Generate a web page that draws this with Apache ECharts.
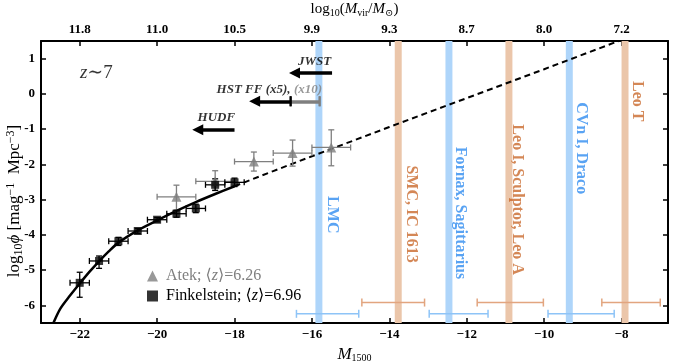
<!DOCTYPE html>
<html>
<head>
<meta charset="utf-8">
<script src="https://cdn.jsdelivr.net/npm/echarts@6/dist/echarts.min.js"></script>
<style>
  html, body { margin: 0; padding: 0; background: #fff; }
  #chart { width: 674px; height: 363px; }
</style>
</head>
<body>
<div id="chart"></div>
<script>
// axis ticks
const bottomTicks = [-22, -20, -18, -16, -14, -12, -10, -8];
const topTickLabels = ['11.8', '11.0', '10.5', '9.9', '9.3', '8.7', '8.0', '7.2'];
const yTicks = [-6, -5, -4, -3, -2, -1, 0, 1];

// Finkelstein points (M1500, log phi) + errors
const finkM = [-22, -21.5, -21, -20.5, -20, -19.5, -19, -18.5, -18];
const finkPhi = [-5.36, -4.74, -4.18, -3.89, -3.57, -3.40, -3.25, -2.58, -2.51];
const finkErrM = [0.25, 0.25, 0.25, 0.25, 0.25, 0.25, 0.25, 0.25, 0.25];
const finkErrUp = [0.30, 0.14, 0.11, 0.07, 0.06, 0.10, 0.12, 0.17, 0.12];
const finkErrDn = [0.41, 0.21, 0.12, 0.07, 0.06, 0.10, 0.12, 0.16, 0.12];

// Atek points
const atekM = [-19.5, -18.5, -17.5, -16.5, -15.5];
const atekPhi = [-2.92, -2.48, -1.92, -1.68, -1.52];
const atekErrM = [0.5, 0.5, 0.5, 0.5, 0.5];
const atekErrUp = [0.33, 0.30, 0.27, 0.37, 0.50];
const atekErrDn = [0.40, 0.25, 0.27, 0.37, 0.52];

// fitted LF: solid part and dashed extrapolation
const fitM = [-22.68, -22.5, -22.25, -22, -21.75, -21.5, -21.25, -21, -20.5, -20, -19.5, -19, -18.5, -18];
const fitPhi = [-6.5, -6.09, -5.72, -5.38, -5.05, -4.75, -4.47, -4.22, -3.87, -3.59, -3.32, -3.07, -2.84, -2.62];
const extM = [-18, -17, -16, -14, -12, -10, -8];
const extPhi = [-2.62, -2.19, -1.77, -0.94, -0.12, 0.70, 1.53];

// local group galaxies (vertical bands)
const blueBands = [-15.82, -12.46, -9.35];
const blueNames = ['LMC', 'Fornax, Sagittarius', 'CVn I, Draco'];
const blueNameM = [-15.47, -12.16, -9.04];
const blueNamePhi = [-3.43, -3.38, -1.54];
const orangeBands = [-13.77, -10.91, -7.91];
const orangeNames = ['SMC, IC 1613', 'Leo I, Sculptor, Leo A', 'Leo T'];
const orangeNameM = [-13.44, -10.70, -7.60];
const orangeNamePhi = [-3.41, -3.00, -0.21];

// magnitude ranges at the bottom
const orangeLo = [-14.71, -11.73, -8.51];
const orangeHi = [-13.09, -10.02, -7.00];
const orangeRowPhi = -5.92;
const blueLo = [-16.40, -12.97, -9.90];
const blueHi = [-14.79, -11.45, -8.19];
const blueRowPhi = -6.24;

// survey limits (arrows)
const hudfArrow = [[-18.0, -1.02], [-18.95, -1.02]];
const hstArrow = [[-16.55, -0.21], [-17.48, -0.21]];
const hst10Bar = [[-15.80, -0.21], [-16.55, -0.21]];
const jwstArrow = [[-15.48, 0.59], [-16.45, 0.59]];

const serif = '"Liberation Serif", "DejaVu Serif", serif';
const BLUE_BAND = '#aed5fa';
const ORANGE_BAND = '#ebc6aa';
const BLUE_TXT = '#2f8cf0';
const ORANGE_TXT = '#c9692c';
const GREY = '#7f7f7f';

function errRows(xs, ys, ex, eu, ed) {
  return xs.map((x, i) => [x, ys[i], x - ex[i], x + ex[i], ys[i] - ed[i], ys[i] + eu[i]]);
}

function errorBars(color, cap, lw) {
  return function (params, api) {
    const x = api.value(0), y = api.value(1);
    const pl = api.coord([api.value(2), y]);
    const ph = api.coord([api.value(3), y]);
    const style = { stroke: color, lineWidth: lw, fill: null };
    const kids = [
      { type: 'line', shape: { x1: pl[0], y1: pl[1], x2: ph[0], y2: ph[1] }, style },
      { type: 'line', shape: { x1: pl[0], y1: pl[1] - cap, x2: pl[0], y2: pl[1] + cap }, style },
      { type: 'line', shape: { x1: ph[0], y1: ph[1] - cap, x2: ph[0], y2: ph[1] + cap }, style }
    ];
    if (api.value(5) > api.value(4)) {
      const pb = api.coord([x, api.value(4)]);
      const pt = api.coord([x, api.value(5)]);
      kids.push(
        { type: 'line', shape: { x1: pb[0], y1: pb[1], x2: pt[0], y2: pt[1] }, style },
        { type: 'line', shape: { x1: pb[0] - cap, y1: pb[1], x2: pb[0] + cap, y2: pb[1] }, style },
        { type: 'line', shape: { x1: pt[0] - cap, y1: pt[1], x2: pt[0] + cap, y2: pt[1] }, style }
      );
    }
    return { type: 'group', children: kids };
  };
}

function bandSeries(centers, color) {
  return {
    type: 'custom',
    z: 1,
    silent: true,
    data: centers.map(c => [c, 0]),
    renderItem: (params, api) => {
      const c = api.value(0);
      const p0 = api.coord([c - 0.09, 1.5]);
      const p1 = api.coord([c + 0.09, -6.5]);
      return { type: 'rect', shape: { x: p0[0], y: p0[1], width: p1[0] - p0[0], height: p1[1] - p0[1] }, style: { fill: color } };
    }
  };
}

function textSeries(data, label) {
  return {
    type: 'scatter',
    symbolSize: 0,
    silent: true,
    z: 6,
    data: data,
    label: Object.assign({ show: true, position: 'inside', formatter: p => p.data[2] }, label)
  };
}

function arrowSeries(coords, color, withHead) {
  return {
    type: 'lines',
    coordinateSystem: 'cartesian2d',
    z: 5,
    silent: true,
    symbol: ['none', withHead ? 'triangle' : 'none'],
    symbolSize: 11,
    lineStyle: { color: color, width: 3.5, opacity: 1 },
    data: [{ coords: coords }]
  };
}

const rowRows = (lo, hi, y) => lo.map((l, i) => [(l + hi[i]) / 2, y, l, hi[i], y, y]);

// rich text pieces for axis titles
const nameRich = {
  t: { fontFamily: serif, fontSize: 15, lineHeight: 18, color: '#000' },
  i: { fontFamily: serif, fontSize: 15, lineHeight: 18, fontStyle: 'italic', color: '#000' },
  b: { fontFamily: serif, fontSize: 17, lineHeight: 18, fontStyle: 'italic', color: '#000' },
  s: { fontFamily: serif, fontSize: 10, lineHeight: 9, verticalAlign: 'bottom', color: '#000' },
  p: { fontFamily: serif, fontSize: 10, lineHeight: 9, verticalAlign: 'top', color: '#000' }
};
const yRich = {
  t: { fontFamily: serif, fontSize: 17, lineHeight: 20, color: '#000' },
  i: { fontFamily: serif, fontSize: 17, lineHeight: 20, fontStyle: 'italic', color: '#000' },
  s: { fontFamily: serif, fontSize: 12, lineHeight: 10, verticalAlign: 'bottom', color: '#000' },
  p: { fontFamily: serif, fontSize: 12, lineHeight: 10, verticalAlign: 'top', color: '#000' }
};

const chart = echarts.init(document.getElementById('chart'), null, { renderer: 'canvas' });

const tickLabel = { fontFamily: serif, fontWeight: 'bold', fontSize: 13, color: '#000' };
const frameLine = { show: true, onZero: false, lineStyle: { color: '#000', width: 2 } };
const ticks = { show: true, inside: true, length: 5, lineStyle: { color: '#000', width: 1.5 } };

chart.setOption({
  animation: false,
  backgroundColor: '#fff',
  grid: { left: 41, right: 6, top: 41, bottom: 40, containLabel: false, outerBoundsMode: 'none' },
  graphic: [
    {
      type: 'text', x: 15, y: 201, rotation: Math.PI / 2,
      style: {
        text: '{t|log}{s|10}{i|\u03d5}{t| [mag}{p|\u22121}{t|  Mpc}{p|\u22123}{t|]}',
        rich: yRich, align: 'center', verticalAlign: 'middle'
      }
    }
  ],
  legend: {
    left: 142,
    top: 263,
    orient: 'vertical',
    itemWidth: 11,
    itemHeight: 11,
    itemGap: 4,
    selectedMode: false,
    data: [
      { name: 'Atek', textStyle: { color: GREY } },
      { name: 'Finkelstein', textStyle: { color: '#000' } }
    ],
    formatter: name => name === 'Atek'
      ? '{t|Atek; \u27e8}{i|z}{t|\u27e9=6.26}'
      : '{t|Finkelstein; \u27e8}{i|z}{t|\u27e9=6.96}',
    textStyle: {
      fontFamily: serif, fontSize: 16, padding: [0, 0, 0, 3],
      rich: {
        t: { fontFamily: serif, fontSize: 16 },
        i: { fontFamily: serif, fontSize: 16, fontStyle: 'italic' }
      }
    }
  },
  xAxis: [
    {
      type: 'value', position: 'bottom', min: -23, max: -6.8,
      axisLine: frameLine, axisTick: Object.assign({ customValues: bottomTicks }, ticks),
      axisLabel: Object.assign({ customValues: bottomTicks, margin: 5, formatter: v => String(v).replace('-', '\u2212') }, tickLabel),
      splitLine: { show: false },
      name: '{b|M}{s|1500}', nameLocation: 'middle', nameGap: 17,
      nameTextStyle: { rich: nameRich }
    },
    {
      type: 'value', position: 'top', min: -23, max: -6.8,
      axisLine: frameLine, axisTick: Object.assign({ customValues: bottomTicks }, ticks),
      axisLabel: Object.assign({
        customValues: bottomTicks, margin: 5,
        formatter: v => topTickLabels[bottomTicks.indexOf(Math.round(v))]
      }, tickLabel),
      splitLine: { show: false },
      name: '{t|log}{s|10}{t|(}{i|M}{s|vir}{t|/}{i|M}{s|\u2299}{t|)}', nameLocation: 'middle', nameGap: 12,
      nameTextStyle: { rich: nameRich }
    }
  ],
  yAxis: [
    {
      type: 'value', position: 'left', min: -6.5, max: 1.5,
      axisLine: frameLine, axisTick: Object.assign({ customValues: yTicks }, ticks),
      axisLabel: Object.assign({ customValues: yTicks, margin: 6 }, tickLabel),
      splitLine: { show: false }
    },
    {
      type: 'value', position: 'right', min: -6.5, max: 1.5,
      axisLine: frameLine, axisTick: Object.assign({ customValues: yTicks }, ticks),
      axisLabel: { show: false }, splitLine: { show: false }
    }
  ],
  series: [
    bandSeries(blueBands, BLUE_BAND),
    bandSeries(orangeBands, ORANGE_BAND),
    {
      type: 'custom', z: 2, silent: true,
      data: rowRows(orangeLo, orangeHi, orangeRowPhi),
      renderItem: errorBars('#e2a57f', 4, 1.5)
    },
    {
      type: 'custom', z: 2, silent: true,
      data: rowRows(blueLo, blueHi, blueRowPhi),
      renderItem: errorBars('#8ec4f7', 4, 1.5)
    },
    {
      type: 'line', z: 3, silent: true, showSymbol: false, symbol: 'none', smooth: 0.3,
      data: fitM.map((m, i) => [m, fitPhi[i]]),
      lineStyle: { color: '#000', width: 2.5 }
    },
    {
      type: 'line', z: 3, silent: true, showSymbol: false, symbol: 'none',
      data: extM.map((m, i) => [m, extPhi[i]]),
      lineStyle: { color: '#000', width: 2, type: [6, 4] }
    },
    {
      type: 'custom', z: 4, silent: true,
      data: errRows(atekM, atekPhi, atekErrM, atekErrUp, atekErrDn),
      renderItem: errorBars(GREY, 3, 1.3)
    },
    {
      type: 'custom', z: 4, silent: true,
      data: errRows(finkM, finkPhi, finkErrM, finkErrUp, finkErrDn),
      renderItem: errorBars('#000', 3, 1.3)
    },
    {
      name: 'Atek', type: 'scatter', z: 5, symbol: 'triangle', symbolSize: 10,
      itemStyle: { color: GREY },
      data: atekM.map((m, i) => [m, atekPhi[i]])
    },
    {
      name: 'Finkelstein', type: 'scatter', z: 5, symbol: 'rect', symbolSize: 8,
      itemStyle: { color: '#000' },
      data: finkM.map((m, i) => [m, finkPhi[i]])
    },
    arrowSeries(hudfArrow, '#000', true),
    arrowSeries(hst10Bar, GREY, false),
    arrowSeries(hstArrow, '#000', true),
    arrowSeries(jwstArrow, '#000', true),
    {
      type: 'custom', z: 5, silent: true,
      data: [[hst10Bar[0][0], hst10Bar[0][1], hst10Bar[0][0], hst10Bar[0][0], 0, 0]],
      renderItem: errorBars(GREY, 5, 2)
    },
    {
      type: 'custom', z: 5, silent: true,
      data: [[hstArrow[0][0], hstArrow[0][1], hstArrow[0][0], hstArrow[0][0], 0, 0]],
      renderItem: errorBars('#000', 5, 2)
    },
    textSeries(blueNames.map((n, i) => [blueNameM[i], blueNamePhi[i], n]),
      { rotate: -90, fontFamily: serif, fontWeight: 'bold', fontSize: 16, color: BLUE_TXT }),
    textSeries(orangeNames.map((n, i) => [orangeNameM[i], orangeNamePhi[i], n]),
      { rotate: -90, fontFamily: serif, fontWeight: 'bold', fontSize: 16, color: ORANGE_TXT }),
    textSeries([[-15.93, 0.92, 'JWST'], [-18.47, -0.67, 'HUDF']],
      { fontFamily: serif, fontWeight: 'bold', fontStyle: 'italic', fontSize: 13, color: '#000' }),
    textSeries([[-17.10, 0.12, '{b|HST FF (x5),} {g|(x10)}']],
      {
        rich: {
          b: { fontFamily: serif, fontWeight: 'bold', fontStyle: 'italic', fontSize: 13, color: '#000' },
          g: { fontFamily: serif, fontWeight: 'bold', fontStyle: 'italic', fontSize: 13, color: GREY }
        }
      }),
    textSeries([[-21.57, 0.59, '{i|z}{t|\u223c7}']],
      {
        rich: {
          i: { fontFamily: serif, fontStyle: 'italic', fontSize: 19, color: '#000' },
          t: { fontFamily: serif, fontSize: 19, color: '#000' }
        }
      })
  ]
});
</script>
</body>
</html>
